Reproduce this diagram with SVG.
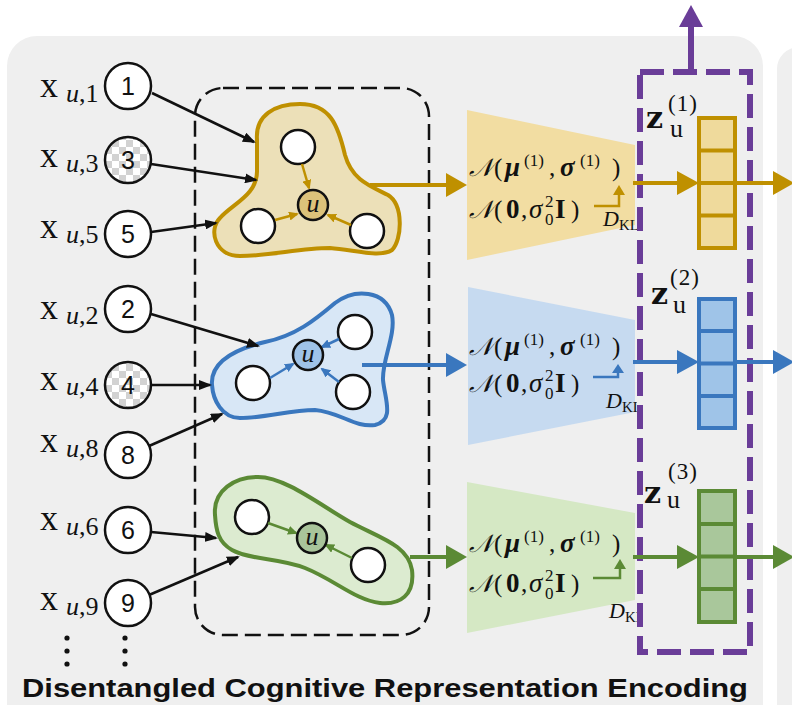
<svg xmlns="http://www.w3.org/2000/svg" width="792" height="705" viewBox="0 0 792 705">
  <style>
    .panel { fill: #efefef; }
    .in { fill: #ffffff; stroke: #111; stroke-width: 2.5; }
    .num { font-family: "Liberation Sans", Arial, sans-serif; font-size: 25px; text-anchor: middle; fill: #111; }
    .lx { font-family: "Liberation Serif", "DejaVu Serif", serif; font-size: 36px; fill: #111; }
    .sub { font-size: 26px; }
    .it { font-style: italic; }
    .edge { stroke: #111; stroke-width: 2.5; fill: none; marker-end: url(#ahBlack); }
    .m { font-family: "Liberation Serif", "DejaVu Serif", serif; font-size: 25px; fill: #111; }
    .bf { font-weight: bold; }
    .big { font-size: 27px; }
    .sup { font-size: 17px; font-weight: normal; font-style: normal; }
    .d { font-family: "Liberation Serif", "DejaVu Serif", serif; font-size: 22px; font-style: italic; fill: #111; }
    .kl { font-size: 15px; font-style: normal; }
    .zl { font-family: "DejaVu Serif", "Liberation Serif", serif; font-size: 30px; font-weight: bold; fill: #111; }
    .zu { font-family: "Liberation Serif", serif; font-size: 26px; font-weight: normal; }
    .zs { font-family: "Liberation Serif", serif; font-size: 23px; font-weight: normal; letter-spacing: 1px; }
    .title { font-family: "Liberation Sans", Arial, sans-serif; font-size: 26px; font-weight: bold; fill: #111; }
    .gold { stroke: #bf9000; }
    .blue { stroke: #3a77be; }
    .green { stroke: #5b8a35; }
    .inner { stroke-width: 2.5; fill: none; }
    .flow { stroke-width: 4; fill: none; }
    .sat { fill: #ffffff; stroke: #111; stroke-width: 2.5; }
    .ctr { stroke: #111; stroke-width: 2.5; }
    .ctrtxt { font-family: "Liberation Serif", "DejaVu Serif", serif; font-size: 26px; font-style: italic; text-anchor: middle; fill: #111; }
  </style>
  <defs>
    <pattern id="checker" width="14" height="14" patternUnits="userSpaceOnUse">
      <rect width="14" height="14" fill="#ffffff"/>
      <rect width="7" height="7" fill="#d2d2d2"/>
      <rect x="7" y="7" width="7" height="7" fill="#d2d2d2"/>
    </pattern>
    <marker id="ahBlack" markerUnits="userSpaceOnUse" viewBox="0 0 13 10" markerWidth="13" markerHeight="10" refX="11" refY="5" orient="auto">
      <path d="M0,0 L13,5 L0,10 z" fill="#111"/>
    </marker>
    <marker id="ahGold" markerUnits="userSpaceOnUse" viewBox="0 0 10 9" markerWidth="10" markerHeight="9" refX="8" refY="4.5" orient="auto">
      <path d="M0,0 L10,4.5 L0,9 z" fill="#bf9000"/>
    </marker>
    <marker id="ahBlue" markerUnits="userSpaceOnUse" viewBox="0 0 10 9" markerWidth="10" markerHeight="9" refX="8" refY="4.5" orient="auto">
      <path d="M0,0 L10,4.5 L0,9 z" fill="#3a77be"/>
    </marker>
    <marker id="ahGreen" markerUnits="userSpaceOnUse" viewBox="0 0 10 9" markerWidth="10" markerHeight="9" refX="8" refY="4.5" orient="auto">
      <path d="M0,0 L10,4.5 L0,9 z" fill="#5b8a35"/>
    </marker>
    <clipPath id="klClip">
      <rect x="560" y="0" width="77" height="705"/>
    </clipPath>
  </defs>

  <!-- background panels -->
  <rect x="0" y="0" width="792" height="705" fill="#ffffff"/>
  <rect class="panel" x="7" y="36" width="756" height="720" rx="30"/>
  <rect class="panel" x="777" y="47" width="60" height="720" rx="22"/>

  <!-- grouping frame around the three subgraphs -->
  <rect x="195" y="88" width="234" height="547" rx="28" fill="none" stroke="#111" stroke-width="2.5" stroke-dasharray="16 7"/>

  <!-- subgraph 1 (gold) -->
  <g id="factor-1">
    <path d="M257,140 C255,115 275,104 300,104 C330,104 338,125 345,155 C352,180 370,186 388,195 C404,205 402,240 392,250 C380,258 355,250 330,248 C300,248 270,256 240,256 C215,256 208,230 220,218 C232,204 258,195 257,170 Z" fill="#ece0b8" stroke="#bf9000" stroke-width="4"/>
    <circle class="sat" cx="298" cy="147" r="17"/>
    <circle class="sat" cx="258" cy="226" r="17"/>
    <circle class="sat" cx="367" cy="231" r="17"/>
    <line class="inner gold" x1="302" y1="164" x2="309" y2="188" marker-end="url(#ahGold)"/>
    <line class="inner gold" x1="275" y1="220" x2="297" y2="214" marker-end="url(#ahGold)"/>
    <line class="inner gold" x1="351" y1="225" x2="328" y2="215" marker-end="url(#ahGold)"/>
    <circle class="ctr" cx="313" cy="205" r="15" fill="#dcc27a"/>
    <text class="ctrtxt" x="313" y="212">u</text>
  </g>

  <!-- subgraph 2 (blue) -->
  <g id="factor-2">
    <path d="M212,385 C210,360 240,348 265,342 C295,336 315,320 335,303 C355,288 385,290 392,315 C396,335 382,360 383,380 C385,400 395,420 375,425 C355,428 340,412 315,410 C290,410 265,418 240,418 C222,418 213,400 212,385 Z" fill="#d8e7f6" stroke="#3a77be" stroke-width="4"/>
    <circle class="sat" cx="253" cy="383" r="17"/>
    <circle class="sat" cx="355" cy="332" r="17"/>
    <circle class="sat" cx="353" cy="392" r="17"/>
    <line class="inner blue" x1="270" y1="378" x2="293" y2="364" marker-end="url(#ahBlue)"/>
    <line class="inner blue" x1="339" y1="339" x2="322" y2="347" marker-end="url(#ahBlue)"/>
    <line class="inner blue" x1="339" y1="382" x2="322" y2="369" marker-end="url(#ahBlue)"/>
    <circle class="ctr" cx="308" cy="355" r="15" fill="#9fc3e8"/>
    <text class="ctrtxt" x="308" y="362">u</text>
  </g>

  <!-- subgraph 3 (green) -->
  <g id="factor-3">
    <path d="M215,515 C213,490 235,477 258,477 C285,477 320,505 350,522 C380,538 408,545 412,570 C415,595 400,605 380,603 C355,600 335,580 305,568 C280,558 250,560 232,550 C218,542 216,530 215,515 Z" fill="#dcebd0" stroke="#5b8a35" stroke-width="4"/>
    <circle class="sat" cx="252" cy="517" r="17"/>
    <circle class="sat" cx="368" cy="565" r="17"/>
    <line class="inner green" x1="268" y1="523" x2="296" y2="533" marker-end="url(#ahGreen)"/>
    <line class="inner green" x1="352" y1="558" x2="326" y2="545" marker-end="url(#ahGreen)"/>
    <circle class="ctr" cx="312" cy="538" r="15" fill="#a9c49a"/>
    <text class="ctrtxt" x="312" y="545">u</text>
  </g>

  <!-- input variables -->
  <g id="x1">
    <text class="lx" y="97"><tspan x="40">x</tspan><tspan class="sub it" x="66" y="102">u</tspan><tspan class="sub" y="102">,1</tspan></text>
    <circle class="in" cx="128" cy="86" r="23"/><text class="num" x="128" y="95">1</text>
  </g>
  <g id="x3">
    <text class="lx" y="167"><tspan x="40">x</tspan><tspan class="sub it" x="66" y="172">u</tspan><tspan class="sub" y="172">,3</tspan></text>
    <circle class="in" cx="128" cy="160" r="23" style="fill:url(#checker)"/><text class="num" x="128" y="169">3</text>
  </g>
  <g id="x5">
    <text class="lx" y="238"><tspan x="40">x</tspan><tspan class="sub it" x="66" y="243">u</tspan><tspan class="sub" y="243">,5</tspan></text>
    <circle class="in" cx="128" cy="234" r="23"/><text class="num" x="128" y="243">5</text>
  </g>
  <g id="x2">
    <text class="lx" y="319"><tspan x="40">x</tspan><tspan class="sub it" x="66" y="324">u</tspan><tspan class="sub" y="324">,2</tspan></text>
    <circle class="in" cx="128" cy="309" r="23"/><text class="num" x="128" y="318">2</text>
  </g>
  <g id="x4">
    <text class="lx" y="390"><tspan x="40">x</tspan><tspan class="sub it" x="66" y="395">u</tspan><tspan class="sub" y="395">,4</tspan></text>
    <circle class="in" cx="128" cy="385" r="23" style="fill:url(#checker)"/><text class="num" x="128" y="394">4</text>
  </g>
  <g id="x8">
    <text class="lx" y="452"><tspan x="40">x</tspan><tspan class="sub it" x="66" y="457">u</tspan><tspan class="sub" y="457">,8</tspan></text>
    <circle class="in" cx="128" cy="455" r="23"/><text class="num" x="128" y="464">8</text>
  </g>
  <g id="x6">
    <text class="lx" y="530"><tspan x="40">x</tspan><tspan class="sub it" x="66" y="535">u</tspan><tspan class="sub" y="535">,6</tspan></text>
    <circle class="in" cx="128" cy="530" r="23"/><text class="num" x="128" y="539">6</text>
  </g>
  <g id="x9">
    <text class="lx" y="610"><tspan x="40">x</tspan><tspan class="sub it" x="66" y="615">u</tspan><tspan class="sub" y="615">,9</tspan></text>
    <circle class="in" cx="128" cy="603" r="23"/><text class="num" x="128" y="612">9</text>
  </g>
  <g id="more" fill="#111">
    <circle cx="67" cy="638" r="2.6"/><circle cx="67" cy="651" r="2.6"/><circle cx="67" cy="664" r="2.6"/>
    <circle cx="125" cy="638" r="2.6"/><circle cx="125" cy="651" r="2.6"/><circle cx="125" cy="664" r="2.6"/>
  </g>

  <!-- encoders (Gaussian posteriors vs. prior) -->
  <g id="enc-1">
    <polygon points="467,110 635,145 635,225 467,260" fill="#f2dda2"/>
    <text class="m" y="176"><tspan x="469" class="it">𝒩</tspan><tspan x="494">(</tspan><tspan x="505" class="bf it big">μ</tspan><tspan x="524" y="166" class="sup">(1)</tspan><tspan x="549" y="176">,</tspan><tspan x="560" class="bf it big">σ</tspan><tspan x="580" y="166" class="sup">(1)</tspan><tspan x="612" y="176">)</tspan></text>
    <text class="m" y="218"><tspan x="469" class="it">𝒩</tspan><tspan x="494">(</tspan><tspan x="506" class="bf big">0</tspan><tspan x="521">,</tspan><tspan x="529" class="it big">σ</tspan><tspan x="545" y="225" class="sup">0</tspan><tspan x="545" y="207" class="sup">2</tspan><tspan x="555" y="218" class="bf big">I</tspan><tspan x="571">)</tspan></text>
    <polyline points="594,206 619,206 619,193" fill="none" stroke="#bf9000" stroke-width="2.5"/>
    <polygon points="613,195 625,195 619,185" fill="#bf9000"/>
    <text class="d" x="603" y="226" clip-path="url(#klClip)">D<tspan class="kl" y="230">KL</tspan></text>
  </g>
  <g id="enc-2">
    <polygon points="468,287 635,320 635,412 468,445" fill="#c6daf0"/>
    <text class="m" y="355"><tspan x="469" class="it">𝒩</tspan><tspan x="494">(</tspan><tspan x="505" class="bf it big">μ</tspan><tspan x="524" y="345" class="sup">(1)</tspan><tspan x="549" y="355">,</tspan><tspan x="560" class="bf it big">σ</tspan><tspan x="580" y="345" class="sup">(1)</tspan><tspan x="612" y="355">)</tspan></text>
    <text class="m" y="392"><tspan x="469" class="it">𝒩</tspan><tspan x="494">(</tspan><tspan x="506" class="bf big">0</tspan><tspan x="521">,</tspan><tspan x="529" class="it big">σ</tspan><tspan x="545" y="399" class="sup">0</tspan><tspan x="545" y="381" class="sup">2</tspan><tspan x="555" y="392" class="bf big">I</tspan><tspan x="571">)</tspan></text>
    <polyline points="593,377 618,377 618,372" fill="none" stroke="#3a77be" stroke-width="2.5"/>
    <polygon points="612,373 624,373 618,364" fill="#3a77be"/>
    <text class="d" x="606" y="408" clip-path="url(#klClip)">D<tspan class="kl" y="412">KL</tspan></text>
  </g>
  <g id="enc-3">
    <polygon points="467,482 635,513 635,600 467,633" fill="#d5e8c4"/>
    <text class="m" y="552"><tspan x="469" class="it">𝒩</tspan><tspan x="494">(</tspan><tspan x="505" class="bf it big">μ</tspan><tspan x="524" y="542" class="sup">(1)</tspan><tspan x="549" y="552">,</tspan><tspan x="560" class="bf it big">σ</tspan><tspan x="580" y="542" class="sup">(1)</tspan><tspan x="612" y="552">)</tspan></text>
    <text class="m" y="592"><tspan x="469" class="it">𝒩</tspan><tspan x="494">(</tspan><tspan x="506" class="bf big">0</tspan><tspan x="521">,</tspan><tspan x="529" class="it big">σ</tspan><tspan x="545" y="599" class="sup">0</tspan><tspan x="545" y="581" class="sup">2</tspan><tspan x="555" y="592" class="bf big">I</tspan><tspan x="571">)</tspan></text>
    <polyline points="593,578 620,578 620,568" fill="none" stroke="#5b8a35" stroke-width="2.5"/>
    <polygon points="614,569 626,569 620,559" fill="#5b8a35"/>
    <text class="d" x="609" y="618" clip-path="url(#klClip)">D<tspan class="kl" y="622">KL</tspan></text>
  </g>

  <!-- latent factor vectors -->
  <g id="z1">
    <rect x="699" y="118" width="36" height="130" fill="#efda9c" stroke="#bf9000" stroke-width="4"/>
    <path d="M699,150.5 H735 M699,183 H735 M699,215.5 H735" stroke="#bf9000" stroke-width="4"/>
    <text class="zl" x="646" y="128">z<tspan class="zu" x="670" y="137">u</tspan><tspan class="zs" x="668" y="111">(1)</tspan></text>
  </g>
  <g id="z2">
    <rect x="699" y="299" width="36" height="129" fill="#9fc4e8" stroke="#3a77be" stroke-width="4"/>
    <path d="M699,331 H735 M699,363.5 H735 M699,396 H735" stroke="#3a77be" stroke-width="4"/>
    <text class="zl" x="651" y="304">z<tspan class="zu" x="673" y="313">u</tspan><tspan class="zs" x="670" y="285">(2)</tspan></text>
  </g>
  <g id="z3">
    <rect x="699" y="491" width="36" height="131" fill="#a9c79b" stroke="#5b8a35" stroke-width="4"/>
    <path d="M699,524 H735 M699,556.5 H735 M699,589 H735" stroke="#5b8a35" stroke-width="4"/>
    <text class="zl" x="644" y="503">z<tspan class="zu" x="667" y="508">u</tspan><tspan class="zs" x="668" y="479">(3)</tspan></text>
  </g>

  <!-- selection frame and its output -->
  <g id="select">
    <rect x="640" y="72" width="110" height="580" fill="none" stroke="#6a3d98" stroke-width="6" stroke-dasharray="24 9"/>
    <line x1="691" y1="72" x2="691" y2="25" stroke="#6a3d98" stroke-width="6"/>
    <polygon points="679,27 703,27 691,5" fill="#6a3d98"/>
  </g>

  <g id="connectors">
    <!-- inputs into subgraphs -->
    <line class="edge" x1="152" y1="93" x2="254" y2="142"/>
    <line class="edge" x1="151" y1="164" x2="256" y2="180"/>
    <line class="edge" x1="151" y1="232" x2="216" y2="223"/>
    <line class="edge" x1="151" y1="314" x2="258" y2="346"/>
    <line class="edge" x1="151" y1="385" x2="210" y2="385"/>
    <line class="edge" x1="149" y1="446" x2="222" y2="414"/>
    <line class="edge" x1="151" y1="532" x2="216" y2="538"/>
    <line class="edge" x1="149" y1="595" x2="238" y2="557"/>
    <!-- subgraphs into encoders -->
    <line class="flow gold" x1="370" y1="185" x2="448" y2="185"/>
    <polygon points="446,173 467,185 446,197" fill="#bf9000"/>
    <line class="flow blue" x1="362" y1="365" x2="448" y2="365"/>
    <polygon points="446,353 467,365 446,377" fill="#3a77be"/>
    <line class="flow green" x1="410" y1="557" x2="448" y2="557"/>
    <polygon points="446,545 467,557 446,569" fill="#5b8a35"/>
    <!-- encoders into latent vectors -->
    <line class="flow gold" x1="633" y1="183" x2="679" y2="183"/>
    <polygon points="677,171 699,183 677,195" fill="#bf9000"/>
    <line class="flow blue" x1="633" y1="362" x2="679" y2="362"/>
    <polygon points="677,350 699,362 677,374" fill="#3a77be"/>
    <line class="flow green" x1="633" y1="557" x2="679" y2="557"/>
    <polygon points="677,545 699,557 677,569" fill="#5b8a35"/>
    <!-- latent vectors onward -->
    <line class="flow gold" x1="735" y1="183" x2="775" y2="183"/>
    <polygon points="773,171 794,183 773,195" fill="#bf9000"/>
    <line class="flow blue" x1="735" y1="362" x2="775" y2="362"/>
    <polygon points="773,350 794,362 773,374" fill="#3a77be"/>
    <line class="flow green" x1="735" y1="557" x2="775" y2="557"/>
    <polygon points="773,545 794,557 773,569" fill="#5b8a35"/>
  </g>

  <text class="title" x="22" y="697" textLength="726" lengthAdjust="spacingAndGlyphs">Disentangled Cognitive Representation Encoding</text>
</svg>
